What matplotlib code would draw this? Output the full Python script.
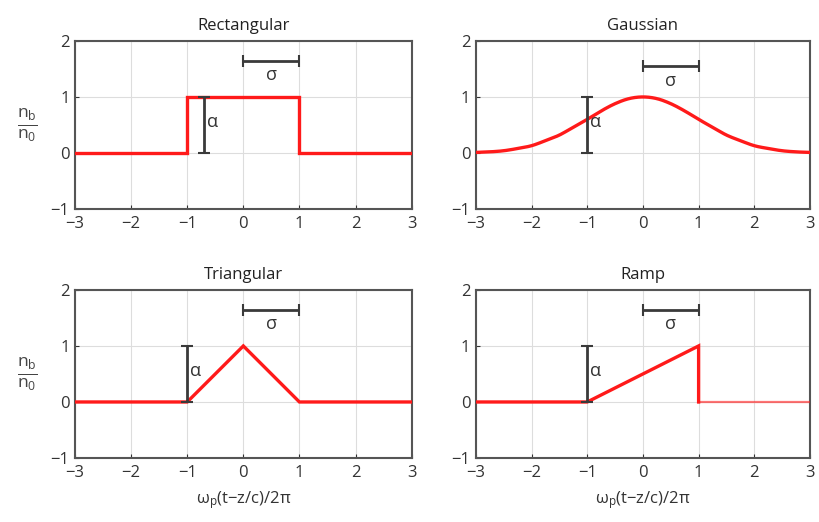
import numpy as np
import matplotlib
matplotlib.use("Agg")
import matplotlib.pyplot as plt

plt.rcParams['font.family'] = ['Open Sans', 'DejaVu Sans']
plt.rcParams['mathtext.fontset'] = 'custom'
plt.rcParams['mathtext.rm'] = 'Open Sans'
plt.rcParams['mathtext.it'] = 'Open Sans'

# profile data
rect_x = [-3, -1, -1, 1, 1, 3]
rect_y = [0, 0, 1, 1, 0, 0]

gauss_x = [-3, -2.75, -2.5, -2.25, -2, -1.75, -1.5, -1.25, -1, -0.75, -0.5, -0.25, 0,
           0.25, 0.5, 0.75, 1, 1.25, 1.5, 1.75, 2, 2.25, 2.5, 2.75, 3]
gauss_y = [0.01, 0.02, 0.04, 0.08, 0.13, 0.22, 0.32, 0.46, 0.6, 0.75, 0.88, 0.97, 1.0,
           0.97, 0.88, 0.75, 0.6, 0.46, 0.32, 0.22, 0.13, 0.08, 0.04, 0.02, 0.01]

tri_x = [-3, -1, 0, 1, 3]
tri_y = [0, 0, 1, 0, 0]

ramp_x = [-3, -1, 1, 1]
ramp_y = [0, 0, 1, 0]
ramp_tail_x = [1, 3]
ramp_tail_y = [0, 0]

titles = ['Rectangular', 'Gaussian', 'Triangular', 'Ramp']
# sigma bar (center, height) and alpha bar x position
sigma_bar = [(0.5, 1.65), (0.5, 1.55), (0.5, 1.65), (0.5, 1.65)]
alpha_x = [-0.7, -1.0, -1.0, -1.0]


def catmull_rom(x, y, n=12):
    # smooth curve through the read points, only for drawing
    x = np.asarray(x, float)
    y = np.asarray(y, float)
    px = np.concatenate([[2 * x[0] - x[1]], x, [2 * x[-1] - x[-2]]])
    py = np.concatenate([[2 * y[0] - y[1]], y, [2 * y[-1] - y[-2]]])
    ox, oy = [], []
    t = np.linspace(0, 1, n, endpoint=False)
    for k in range(1, len(px) - 2):
        for arr, out in ((px, ox), (py, oy)):
            p0, p1, p2, p3 = arr[k - 1], arr[k], arr[k + 1], arr[k + 2]
            out.extend(0.5 * (2 * p1 + (-p0 + p2) * t + (2 * p0 - 5 * p1 + 4 * p2 - p3) * t ** 2
                              + (-p0 + 3 * p1 - 3 * p2 + p3) * t ** 3))
    ox.append(x[-1])
    oy.append(y[-1])
    return ox, oy


fig = plt.figure(figsize=(8.19, 5.22), dpi=100)
positions = [[0.0916, 0.5996, 0.411, 0.322],
             [0.581, 0.5996, 0.408, 0.322],
             [0.0916, 0.1226, 0.411, 0.322],
             [0.581, 0.1226, 0.408, 0.322]]
axes = [fig.add_axes(p) for p in positions]

curves = [(rect_x, rect_y), (gauss_x, gauss_y), (tri_x, tri_y), (ramp_x, ramp_y)]
bar_col = '#3a3a3a'
red = '#ff1a1a'

for i, ax in enumerate(axes):
    cx, cy = curves[i]
    if i == 1:
        sx_, sy_ = catmull_rom(cx, cy)
        ax.plot(sx_, sy_, color=red, lw=2.4, zorder=3)
    else:
        ax.plot(cx, cy, color=red, lw=2.4, zorder=3, solid_joinstyle='miter')
    if i == 3:
        ax.plot(ramp_tail_x, ramp_tail_y, color=red, lw=1.6, alpha=0.6, zorder=3)

    sx, sy = sigma_bar[i]
    ax.errorbar(sx, sy, xerr=0.5, color=bar_col, lw=2, capsize=4, capthick=1.5, zorder=4)
    ax.text(sx, sy - 0.1, 'σ', ha='center', va='top', fontsize=13, color='#333333')

    ax.errorbar(alpha_x[i], 0.5, yerr=0.5, color=bar_col, lw=2, capsize=4, capthick=1.5, zorder=4)
    ax.text(alpha_x[i] + 0.05, 0.55, 'α', ha='left', va='center', fontsize=13, color='#333333')

    ax.set_xlim(-3, 3)
    ax.set_ylim(-1, 2)
    ax.set_xticks([-3, -2, -1, 0, 1, 2, 3])
    ax.set_yticks([-1, 0, 1, 2])
    ax.set_xticklabels(['\u22123', '\u22122', '\u22121', '0', '1', '2', '3'])
    ax.set_yticklabels(['\u22121', '0', '1', '2'])
    ax.grid(True, color='#dddddd', lw=0.8)
    ax.set_axisbelow(True)
    ax.tick_params(direction='in', length=3, labelsize=12, colors='#333333')
    ax.tick_params(axis='x', pad=5)
    ax.tick_params(axis='y', pad=4)
    for s in ax.spines.values():
        s.set_color('#555555')
        s.set_linewidth(1.5)
    ax.set_title(titles[i], fontsize=12, color='#222222', pad=8)

    if i % 2 == 0:
        ax.set_ylabel(r'$\frac{\mathrm{n_b}}{\mathrm{n_0}}$', rotation=0, fontsize=18,
                      color='#444444', va='center', ha='center')
        ax.yaxis.set_label_coords(-0.14, 0.5)
    if i >= 2:
        ax.set_xlabel('$\\mathrm{\u03c9_p}$(t\u2212z/c)/2\u03c0', fontsize=12, color='#333333', labelpad=6)

fig.savefig('out.png', dpi=100)
